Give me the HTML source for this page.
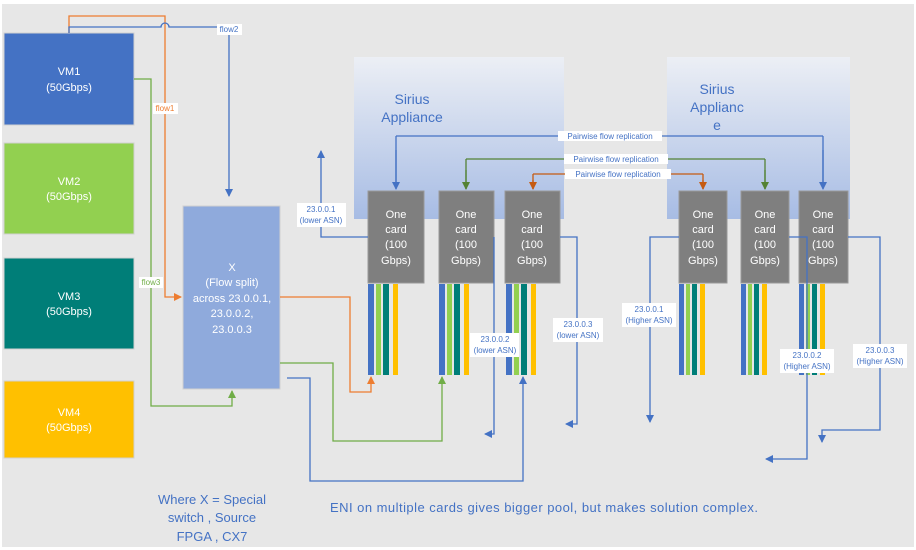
<!DOCTYPE html>
<html><head><meta charset="utf-8"><style>
html,body{margin:0;padding:0;background:#fff;}
svg{display:block;font-family:"Liberation Sans",sans-serif;}
</style></head><body>
<svg width="916" height="550" viewBox="0 0 916 550" xmlns="http://www.w3.org/2000/svg">
<defs>
<linearGradient id="ga" x1="0" y1="0" x2="0" y2="1">
<stop offset="0" stop-color="#eceff5"/><stop offset="1" stop-color="#a7bce4"/>
</linearGradient>
<marker id="ab" markerWidth="8" markerHeight="8" refX="7" refY="4" orient="auto" markerUnits="userSpaceOnUse"><path d="M0,0 L8,4 L0,8z" fill="#4472c4"/></marker>
<marker id="ao" markerWidth="8" markerHeight="8" refX="7" refY="4" orient="auto" markerUnits="userSpaceOnUse"><path d="M0,0 L8,4 L0,8z" fill="#ed7d31"/></marker>
<marker id="ag" markerWidth="8" markerHeight="8" refX="7" refY="4" orient="auto" markerUnits="userSpaceOnUse"><path d="M0,0 L8,4 L0,8z" fill="#70ad47"/></marker>
<marker id="ad" markerWidth="8" markerHeight="8" refX="7" refY="4" orient="auto" markerUnits="userSpaceOnUse"><path d="M0,0 L8,4 L0,8z" fill="#548235"/></marker>
<marker id="ar" markerWidth="8" markerHeight="8" refX="7" refY="4" orient="auto" markerUnits="userSpaceOnUse"><path d="M0,0 L8,4 L0,8z" fill="#c55a11"/></marker>
</defs>
<rect x="2" y="4" width="912" height="543" fill="#e7e7e7"/>

<rect x="354" y="57" width="210" height="162" fill="url(#ga)"/>
<rect x="667" y="57" width="183" height="162" fill="url(#ga)"/>
<g fill="#4472c4" font-size="14" text-anchor="middle">
<text x="412" y="104">Sirius</text><text x="412" y="122">Appliance</text>
<text x="717" y="94">Sirius</text><text x="717" y="112">Applianc</text><text x="717" y="130">e</text>
</g>

<g stroke="#d0d0d0" stroke-width="1">
<rect x="4" y="33" width="130" height="92" fill="#4472c4"/>
<rect x="4" y="143" width="130" height="91" fill="#92d050"/>
<rect x="4" y="258" width="130" height="91" fill="#007e78"/>
<rect x="4" y="381" width="130" height="77" fill="#ffc000"/>
<rect x="183" y="206" width="97" height="183" fill="#8faadc"/>
</g>
<g fill="#fff" font-size="11" text-anchor="middle">
<text x="69" y="75">VM1</text><text x="69" y="91">(50Gbps)</text>
<text x="69" y="185">VM2</text><text x="69" y="200">(50Gbps)</text>
<text x="69" y="300">VM3</text><text x="69" y="315">(50Gbps)</text>
<text x="69" y="416">VM4</text><text x="69" y="431">(50Gbps)</text>
<text x="232" y="271">X</text><text x="232" y="286">(Flow split)</text>
<text x="232" y="302">across 23.0.0.1,</text><text x="232" y="317">23.0.0.2,</text><text x="232" y="333">23.0.0.3</text>
</g>

<g fill="none" stroke-width="1.3">
<path d="M69,33 V16 H165 V297 H181" stroke="#ed7d31" marker-end="url(#ao)"/>
<path d="M69,33 V27 H161 A4,4 0 0 1 169,27 H229 V196" stroke="#4472c4" marker-end="url(#ab)"/>
<path d="M134,79 H151 V406 H232 V391" stroke="#70ad47" marker-end="url(#ag)"/>
<path d="M280,297 H350 V392 H371 V377" stroke="#ed7d31" marker-end="url(#ao)"/>
<path d="M280,363 H333 V441 H442 V377" stroke="#70ad47" marker-end="url(#ag)"/>
<path d="M287,378 H310 V481 H523 V377" stroke="#4472c4" marker-end="url(#ab)"/>
</g>
<g font-size="8" text-anchor="middle">
<rect x="217" y="24" width="25" height="11" fill="#fff"/><text x="229" y="32" fill="#4472c4">flow2</text>
<rect x="153" y="103" width="25" height="11" fill="#fff"/><text x="165" y="111" fill="#ed7d31">flow1</text>
<rect x="139" y="277" width="24" height="11" fill="#fff"/><text x="151" y="285" fill="#70ad47">flow3</text>
</g>

<g fill="none" stroke-width="1.3">
<path d="M823,136 V188 M396,136 V188 M396,136 H823" stroke="#4472c4"/>
<path d="M396,150 V189" stroke="#4472c4" marker-end="url(#ab)"/>
<path d="M823,150 V189" stroke="#4472c4" marker-end="url(#ab)"/>
<path d="M466,159 H765 M466,159 V189 M765,159 V189" stroke="#548235"/>
<path d="M466,170 V189" stroke="#548235" marker-end="url(#ad)"/>
<path d="M765,170 V189" stroke="#548235" marker-end="url(#ad)"/>
<path d="M533,174 H703 M533,174 V189 M703,174 V189" stroke="#c55a11"/>
<path d="M533,180 V189" stroke="#c55a11" marker-end="url(#ar)"/>
<path d="M703,180 V189" stroke="#c55a11" marker-end="url(#ar)"/>
</g>
<g font-size="8" fill="#4472c4" text-anchor="middle">
<rect x="558" y="131" width="104" height="10" fill="#fff"/><text x="610" y="139">Pairwise flow replication</text>
<rect x="564" y="154" width="104" height="10" fill="#fff"/><text x="616" y="162">Pairwise flow replication</text>
<rect x="565" y="169" width="106" height="10" fill="#fff"/><text x="618" y="177">Pairwise flow  replication</text>
</g>

<g>
<rect x="368" y="191" width="56" height="92" fill="#7f7f7f" stroke="#999"/>
<rect x="439" y="191" width="55" height="92" fill="#7f7f7f" stroke="#999"/>
<rect x="505" y="191" width="55" height="92" fill="#7f7f7f" stroke="#999"/>
<rect x="679" y="191" width="48" height="92" fill="#7f7f7f" stroke="#999"/>
<rect x="741" y="191" width="48" height="92" fill="#7f7f7f" stroke="#999"/>
<rect x="799" y="191" width="49" height="92" fill="#7f7f7f" stroke="#999"/>
</g>
<g fill="#fff" font-size="11" text-anchor="middle">
<text x="396" y="218">One</text><text x="396" y="233">card</text><text x="396" y="248">(100</text><text x="396" y="264">Gbps)</text>
<text x="466" y="218">One</text><text x="466" y="233">card</text><text x="466" y="248">(100</text><text x="466" y="264">Gbps)</text>
<text x="532" y="218">One</text><text x="532" y="233">card</text><text x="532" y="248">(100</text><text x="532" y="264">Gbps)</text>
<text x="703" y="218">One</text><text x="703" y="233">card</text><text x="703" y="248">(100</text><text x="703" y="264">Gbps)</text>
<text x="765" y="218">One</text><text x="765" y="233">card</text><text x="765" y="248">(100</text><text x="765" y="264">Gbps)</text>
<text x="823" y="218">One</text><text x="823" y="233">card</text><text x="823" y="248">(100</text><text x="823" y="264">Gbps)</text>
</g>
<g>
<g transform="translate(368,284)"><rect x="0" width="6" height="91" fill="#4472c4"/><rect x="8" width="5" height="91" fill="#92d050"/><rect x="15" width="6" height="91" fill="#007e78"/><rect x="25" width="5" height="91" fill="#ffc000"/></g>
<g transform="translate(439,284)"><rect x="0" width="6" height="91" fill="#4472c4"/><rect x="8" width="5" height="91" fill="#92d050"/><rect x="15" width="6" height="91" fill="#007e78"/><rect x="25" width="5" height="91" fill="#ffc000"/></g>
<g transform="translate(506,284)"><rect x="0" width="6" height="91" fill="#4472c4"/><rect x="8" width="5" height="91" fill="#92d050"/><rect x="15" width="6" height="91" fill="#007e78"/><rect x="25" width="5" height="91" fill="#ffc000"/></g>
<g transform="translate(679,284)"><rect x="0" width="5" height="91" fill="#4472c4"/><rect x="7" width="4" height="91" fill="#92d050"/><rect x="13" width="5" height="91" fill="#007e78"/><rect x="21" width="5" height="91" fill="#ffc000"/></g>
<g transform="translate(741,284)"><rect x="0" width="5" height="91" fill="#4472c4"/><rect x="7" width="4" height="91" fill="#92d050"/><rect x="13" width="5" height="91" fill="#007e78"/><rect x="21" width="5" height="91" fill="#ffc000"/></g>
<g transform="translate(799,284)"><rect x="0" width="5" height="91" fill="#4472c4"/><rect x="7" width="4" height="91" fill="#92d050"/><rect x="13" width="5" height="91" fill="#007e78"/><rect x="21" width="5" height="91" fill="#ffc000"/></g>
</g>

<g fill="none" stroke="#4472c4" stroke-width="1.3">
<path d="M368,237 H321 V151" marker-end="url(#ab)"/>
<path d="M494,237 V434 H485" marker-end="url(#ab)"/>
<path d="M560,237 H577 V424 H566" marker-end="url(#ab)"/>
<path d="M679,237 H650 V422" marker-end="url(#ab)"/>
<path d="M789,237 H807 V459 H766" marker-end="url(#ab)"/>
<path d="M848,237 H880 V430 H822 V442" marker-end="url(#ab)"/>
</g>
<g font-size="8" fill="#4472c4" text-anchor="middle">
<rect x="297" y="203" width="49" height="24" fill="#fff"/><text x="321" y="212">23.0.0.1</text><text x="321" y="223">(lower ASN)</text>
<rect x="470" y="333" width="49" height="24" fill="#fff"/><text x="495" y="342">23.0.0.2</text><text x="495" y="353">(lower ASN)</text>
<rect x="553" y="318" width="50" height="24" fill="#fff"/><text x="578" y="327">23.0.0.3</text><text x="578" y="338">(lower ASN)</text>
<rect x="622" y="303" width="54" height="24" fill="#fff"/><text x="649" y="312">23.0.0.1</text><text x="649" y="323">(Higher ASN)</text>
<rect x="780" y="349" width="54" height="24" fill="#fff"/><text x="807" y="358">23.0.0.2</text><text x="807" y="369">(Higher ASN)</text>
<rect x="853" y="344" width="54" height="24" fill="#fff"/><text x="880" y="353">23.0.0.3</text><text x="880" y="364">(Higher ASN)</text>
</g>

<g fill="#4472c4" font-size="13" text-anchor="middle">
<text x="212" y="504">Where X = Special</text>
<text x="212" y="522">switch , Source</text>
<text x="212" y="541">FPGA , CX7</text>
</g>
<text x="330" y="512" fill="#4472c4" font-size="13" textLength="428" lengthAdjust="spacing">ENI on multiple cards gives bigger pool, but makes solution complex.</text>
</svg>
</body></html>
